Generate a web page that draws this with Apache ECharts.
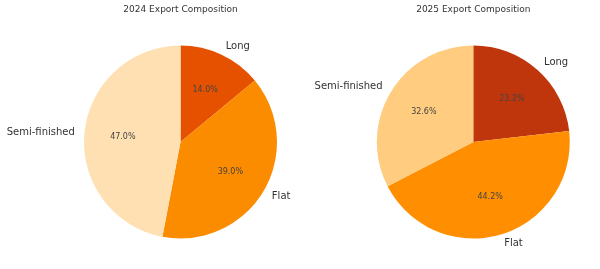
<!DOCTYPE html>
<html>
<head>
<meta charset="utf-8">
<script src="https://cdn.jsdelivr.net/npm/echarts@6/dist/echarts.min.js"></script>
<style>html,body{margin:0;padding:0;background:#fff;}#c{width:600px;height:269px;}</style>
</head>
<body>
<div id="c"></div>
<script>
const categories = ['Long', 'Flat', 'Semi-finished'];
const values2024 = [14.0, 39.0, 47.0];
const values2025 = [23.2, 44.2, 32.6];
const titles = ['2024 Export Composition', '2025 Export Composition'];
const colors2024 = ['#e65100', '#fb8c00', '#ffe0b2'];
const colors2025 = ['#bf360c', '#ff8f00', '#ffcc80'];

const chart = echarts.init(document.getElementById('c'), null, {renderer: 'canvas'});
const R = 96.5;
const FONT = 'DejaVu Sans';
const centers = [[180.5, 142], [473.3, 142]];

function makeData(vals, cols) {
  return categories.map((n, i) => ({name: n, value: vals[i], itemStyle: {color: cols[i]}}));
}

function pieSeries(vals, cols, center) {
  return [
    {
      type: 'pie', center: center, radius: [0, R], startAngle: 90, clockwise: true,
      avoidLabelOverlap: false, silent: true, animation: false,
      data: makeData(vals, cols),
      itemStyle: {borderWidth: 0},
      label: {show: true, position: 'outside', formatter: '{b}', fontFamily: FONT, fontSize: 10,
              color: '#333', distanceToLabelLine: 0},
      labelLine: {show: false, length: R * 0.1, length2: 0}
    },
    {
      type: 'pie', center: center, radius: [R * 0.2 - 6, R], startAngle: 90, clockwise: true,
      avoidLabelOverlap: false, silent: true, animation: false, z: 3,
      data: categories.map((n, i) => ({name: n, value: vals[i], itemStyle: {color: 'rgba(0,0,0,0)'}})),
      label: {show: true, position: 'inside', formatter: (p) => p.value.toFixed(1) + '%',
              fontFamily: FONT, fontSize: 8, color: '#444'},
      labelLine: {show: false}
    }
  ];
}

chart.setOption({
  animation: false,
  graphic: titles.map((t, i) => ({
    type: 'text', x: centers[i][0], y: 10,
    style: {text: t, fontFamily: FONT, fontSize: 9, fill: '#333', textAlign: 'center', textVerticalAlign: 'middle'}
  })),
  series: [
    ...pieSeries(values2024, colors2024, centers[0]),
    ...pieSeries(values2025, colors2025, centers[1])
  ]
});
</script>
</body>
</html>
